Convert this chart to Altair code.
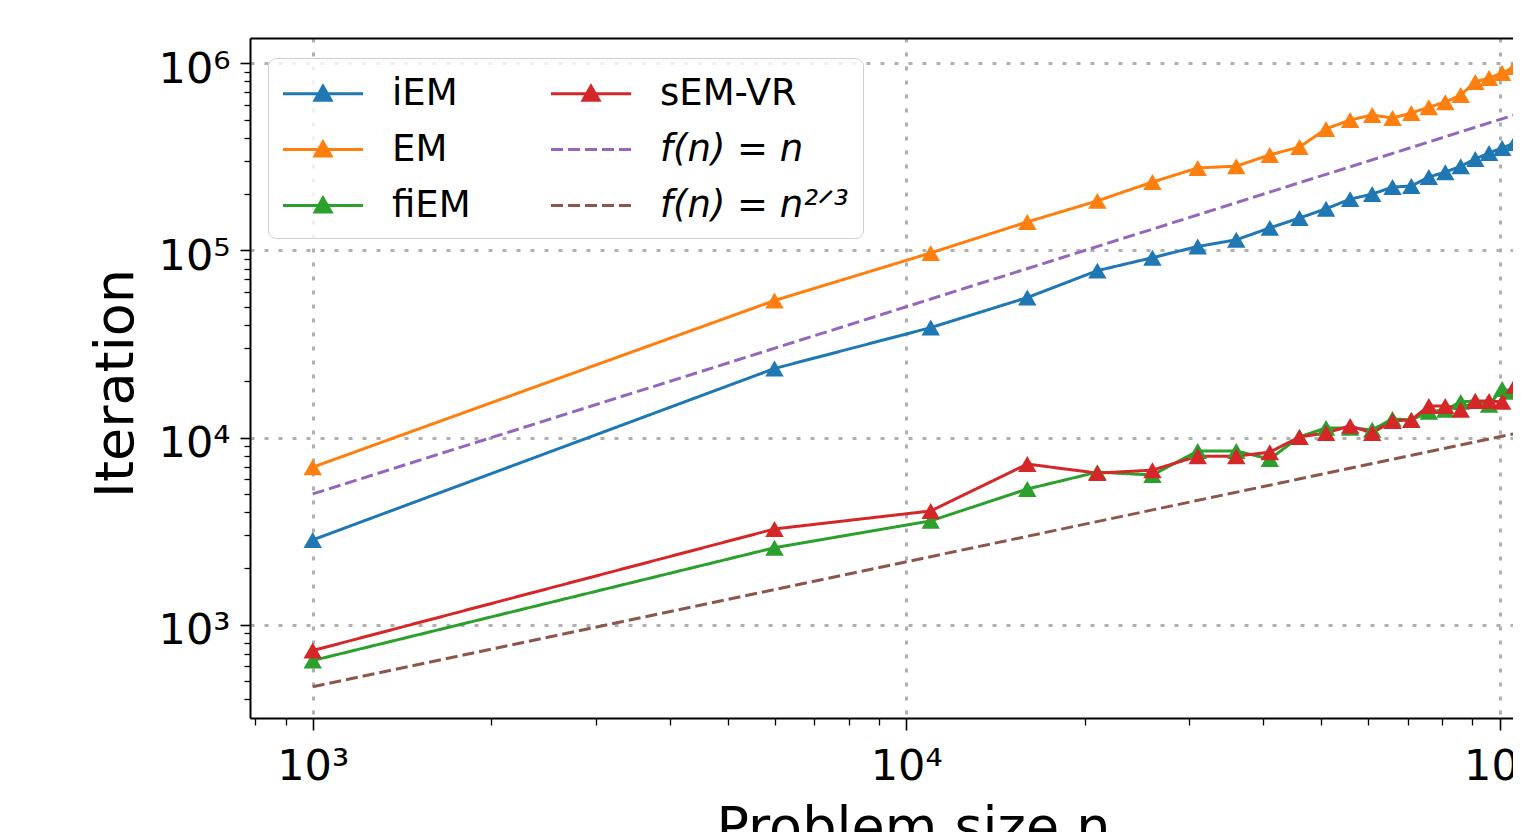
import altair as alt
import pandas as pd

# ---- data ----
n_vals = [1000, 6000, 11000, 16000, 21000, 26000, 31000, 36000, 41000, 46000, 51000,
          56000, 61000, 66000, 71000, 76000, 81000, 86000, 91000, 96000, 101000, 106000]
iem = [2840, 23400, 38700, 56000, 78000, 91500, 105000, 114000, 132000, 149000, 167000,
       188000, 200000, 218000, 221000, 247000, 262000, 282000, 308000, 332000, 353000, 375000]
em = [6950, 54000, 97000, 142000, 184000, 232000, 276000, 282000, 324000, 357000, 446000,
      498000, 529000, 510000, 542000, 583000, 620000, 677000, 795000, 834000, 888000, 955000]
fiem = [644, 2580, 3590, 5310, 6540, 6310, 8470, 8470, 7680, 10080, 11270,
        11270, 11000, 12590, 12430, 13720, 14070, 15520, 15700, 14960, 18200, 17550]
semvr = [728, 3250, 4055, 7220, 6460, 6700, 7960, 7960, 8360, 10080, 10590,
         11550, 10590, 12280, 12430, 14770, 14770, 14070, 15700, 15700, 15520, 18900]
ref_n = [1000, 106000]
ref_linear = [5000, 530000]
ref_two_thirds = [466, 10500]

alg_names = ["iEM", "EM", "fiEM", "sEM-VR"]
ref_names = ["f(n) = n", "f(n) = n²ᐟ³"]
legend_order = ["iEM", "EM", "fiEM", "sEM-VR", "f(n) = n", "f(n) = n²ᐟ³"]
legend_colors = ["#1f77b4", "#ff7f0e", "#2ca02c", "#d62728", "#9467bd", "#8c564b"]
legend_dash = [[1, 0], [1, 0], [1, 0], [1, 0], [12, 5], [12, 5]]

x_major_ticks = [1000, 10000, 100000]
x_minor_ticks = [800, 900, 2000, 3000, 4000, 5000, 6000, 7000, 8000, 9000,
                 20000, 30000, 40000, 50000, 60000, 70000, 80000, 90000]
y_major_ticks = [1000, 10000, 100000, 1000000]
y_minor_ticks = [400, 500, 600, 700, 800, 900, 2000, 3000, 4000, 5000, 6000, 7000, 8000, 9000,
                 20000, 30000, 40000, 50000, 60000, 70000, 80000, 90000,
                 200000, 300000, 400000, 500000, 600000, 700000, 800000, 900000]

rows = []
for name, vals in zip(alg_names, [iem, em, fiem, semvr]):
    for a, b in zip(n_vals, vals):
        rows.append({"n": a, "iter": b, "series": name, "kind": "alg"})
for name, vals in zip(ref_names, [ref_linear, ref_two_thirds]):
    for a, b in zip(ref_n, vals):
        rows.append({"n": a, "iter": b, "series": name, "kind": "ref"})
df = pd.DataFrame(rows)

FONT = "DejaVu Sans"
SUP = "['⁰','¹','²','³','⁴','⁵','⁶','⁷']"
label_expr = f"'10' + {SUP}[round(log(datum.value) / LN10)]"

xscale = alt.Scale(type="log", domain=[784, 105340], nice=False)
yscale = alt.Scale(type="log", domain=[317.5, 1365000], nice=False)

x_major = alt.Axis(orient="bottom", values=x_major_ticks, labelExpr=label_expr, tickSize=12,
                   tickWidth=1.6, tickColor="black", domainColor="black", domainWidth=2,
                   grid=True, gridColor="#b0b0b0", gridDash=[4, 10], gridWidth=3,
                   labelFont=FONT, labelFontSize=43, labelColor="black", labelPadding=15,
                   labelBaseline="top", labelFlush=False, labelOverlap=False,
                   title="Problem size n", titleFont=FONT, titleFontSize=54,
                   titleFontWeight="normal", titleColor="black", titleX=663, titleY=126,
                   titleBaseline="alphabetic", titleAlign="center", zindex=0)
y_major = alt.Axis(orient="left", values=y_major_ticks, labelExpr=label_expr, tickSize=10,
                   tickWidth=1.6, tickColor="black", domainColor="black", domainWidth=2,
                   grid=True, gridColor="#b0b0b0", gridDash=[4, 10], gridWidth=3,
                   labelFont=FONT, labelFontSize=43, labelColor="black", labelPadding=10,
                   labelOffset=6, labelAlign="right", labelBaseline="middle",
                   labelFlush=False, labelOverlap=False,
                   title="Iteration", titleFont=FONT, titleFontSize=54,
                   titleFontWeight="normal", titleColor="black", titleX=-118, titleY=345,
                   titleAngle=270, titleBaseline="alphabetic", titleAlign="center", zindex=0)
x_minor = alt.Axis(orient="bottom", values=x_minor_ticks, tickSize=7, tickWidth=1.3,
                   tickColor="black", labels=False, domain=False, grid=False, title=None,
                   zindex=0)
y_minor = alt.Axis(orient="left", values=y_minor_ticks, tickSize=6, tickWidth=1.3,
                   tickColor="black", labels=False, domain=False, grid=False, title=None,
                   zindex=0)
x_top = alt.Axis(orient="top", domain=True, domainColor="black", domainWidth=2,
                 ticks=False, labels=False, grid=False, title=None, zindex=0)

is_ref = "indexof(datum.value, 'f(') == 0"
legend = alt.Legend(
    title=None, orient="none", legendX=18, legendY=20, columns=2,
    symbolSize=1600, symbolStrokeWidth=3,
    symbolType={"expr": f"{is_ref} ? 'M-1.025,0H2.975' : 'M-1.025,0H2.975M0.975,-0.38L1.375,0.32L0.575,0.32Z'"},
    symbolFillColor={"expr": f"{is_ref} ? 'transparent' : scale('color', datum.value)"},
    symbolDash={"expr": f"{is_ref} ? [12, 5] : [1, 0]"},
    symbolOpacity=1,
    labelFont=FONT, labelFontSize=37, labelColor="black", labelLimit=500,
    labelFontStyle={"expr": f"{is_ref} ? 'italic' : 'normal'"},
    labelOffset=67, columnPadding=74, rowPadding=16, padding=14,
    fillColor="rgba(255,255,255,0.8)", strokeColor="#d0d0d0", cornerRadius=8,
)

cscale = alt.Scale(domain=legend_order, range=legend_colors)
dscale = alt.Scale(domain=legend_order, range=legend_dash)

base = alt.Chart(df)

lines = base.mark_line(strokeWidth=3).encode(
    x=alt.X("n:Q", scale=xscale, axis=x_major),
    y=alt.Y("iter:Q", scale=yscale, axis=y_major),
    color=alt.Color("series:N", scale=cscale, legend=legend),
    strokeDash=alt.StrokeDash("series:N", scale=dscale, legend=None),
)

points = base.transform_filter("datum.kind == 'alg'").mark_point(
    shape="triangle-up", filled=True, size=340, opacity=1
).encode(
    x=alt.X("n:Q", scale=xscale, axis=x_minor),
    y=alt.Y("iter:Q", scale=yscale, axis=y_minor),
    color=alt.Color("series:N", scale=cscale, legend=None),
)

border = base.transform_filter("datum.kind == 'alg'").mark_point(opacity=0).encode(
    x=alt.X("n:Q", scale=xscale, axis=x_top),
    y=alt.Y("iter:Q", scale=yscale, axis=None),
)

chart = alt.layer(lines, points, border).resolve_axis(
    x="independent", y="independent"
).properties(
    width=1263, height=680,
    padding={"left": 242, "top": 30, "right": 0, "bottom": 114},
    autosize=alt.AutoSizeParams(type="none"),
).configure_view(stroke=None).configure(font=FONT)

chart.save("out.html", embed_options={"renderer": "svg", "actions": False})
